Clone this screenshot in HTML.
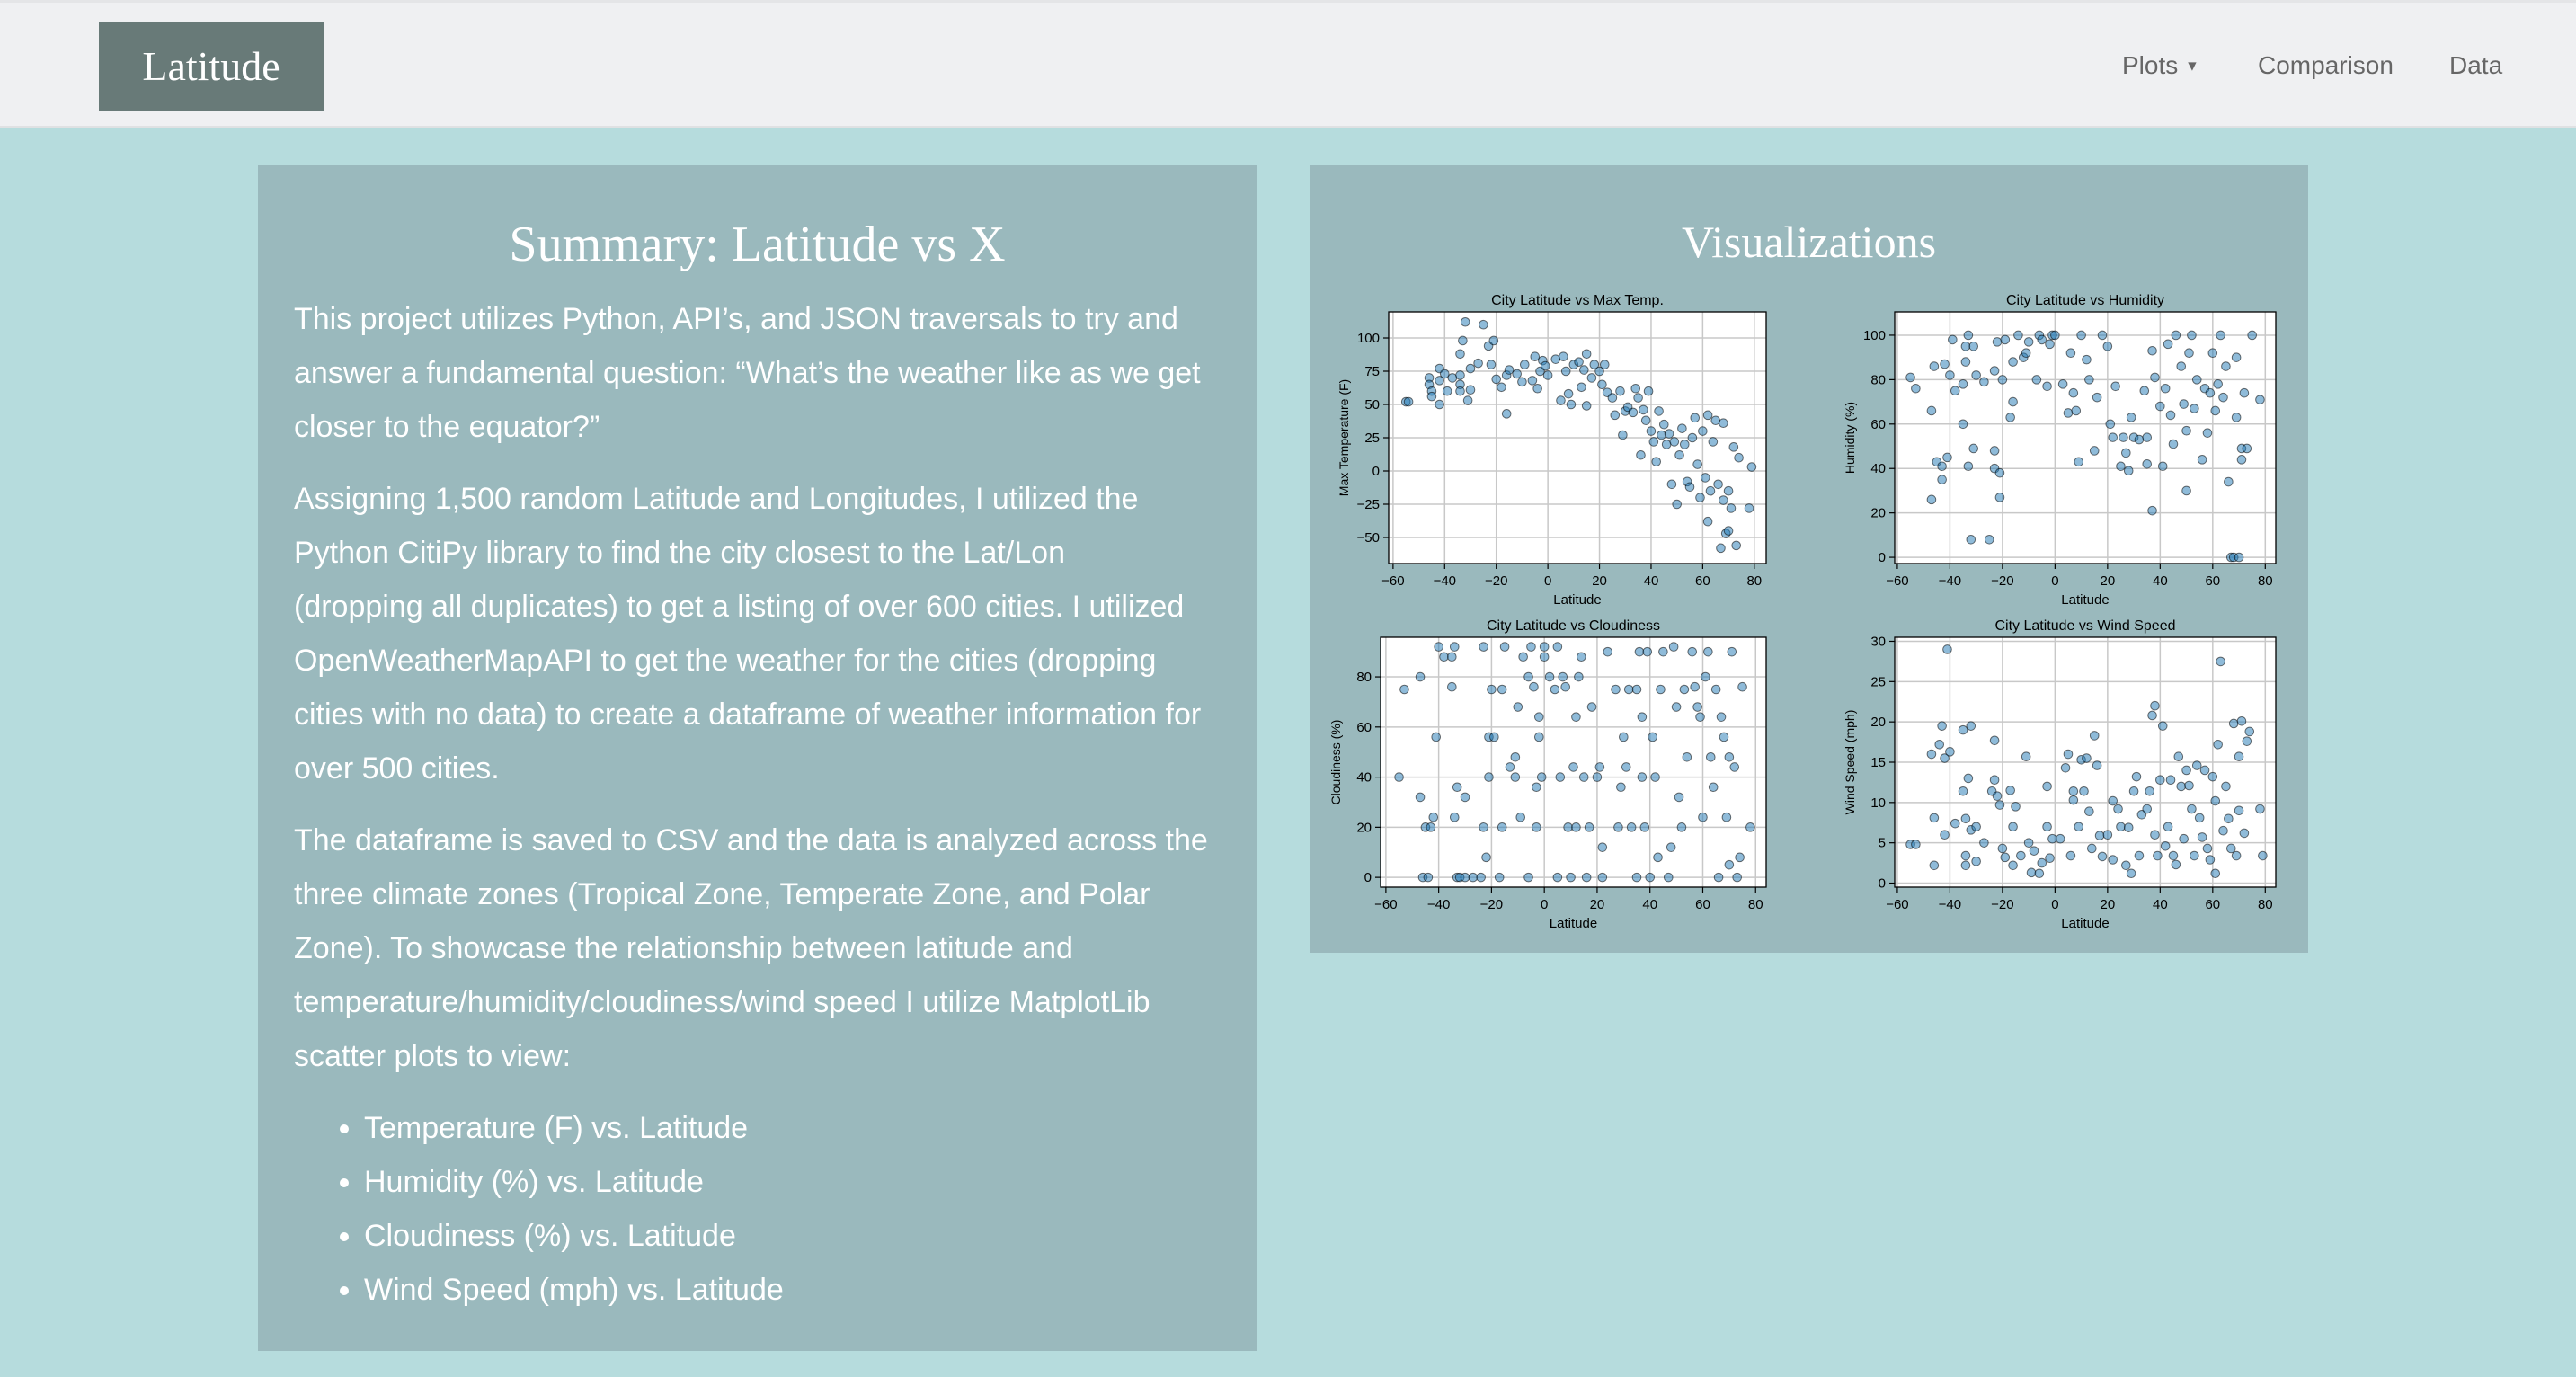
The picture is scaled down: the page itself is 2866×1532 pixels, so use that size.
<!DOCTYPE html>
<html><head><meta charset="utf-8">
<style>
body{margin:0;width:2866px;height:1532px;background:#b6dcdd;position:relative;overflow:hidden;font-family:"Liberation Sans",sans-serif;}
#nav{position:absolute;left:0;top:0;width:2866px;height:142px;background:#eff0f2;border-bottom:2px solid #dfe1e3;border-top:3px solid #e4e5e7;box-sizing:border-box;}
#logo{position:absolute;left:110px;top:21px;width:250px;height:100px;background:#687a78;color:#fff;font-family:"Liberation Serif",serif;font-size:46px;line-height:100px;text-align:center;}
.nl{position:absolute;top:54px;font-size:28px;color:#666;}
.panel{position:absolute;background:#9ab9bd;color:#fff;}
#left{left:287px;top:184px;width:1111px;height:1319px;}
#right{left:1457px;top:184px;width:1111px;height:876px;}
h2{font-family:"Liberation Serif",serif;font-weight:normal;font-size:56px;text-align:center;margin:0;position:absolute;width:100%;}
p{margin:0 0 20px 0;font-size:34px;line-height:60px;}
ul{margin:0;padding-left:78px;font-size:34px;line-height:60px;}
#charts{position:absolute;left:0;top:0;}
</style></head><body>
<div id="nav">
<div id="logo">Latitude</div>
<div class="nl" style="left:2361px">Plots <span style="font-size:16px;vertical-align:middle">▼</span></div>
<div class="nl" style="left:2512px">Comparison</div>
<div class="nl" style="left:2725px">Data</div>
</div>
<div id="left" class="panel">
<h2 style="top:56px">Summary: Latitude vs X</h2>
<div style="position:absolute;left:40px;top:141px;width:1025px">
<p>This project utilizes Python, API’s, and JSON traversals to try and answer a fundamental question: “What’s the weather like as we get closer to the equator?”</p>
<p>Assigning 1,500 random Latitude and Longitudes, I utilized the Python CitiPy library to find the city closest to the Lat/Lon<br>(dropping all duplicates) to get a listing of over 600 cities. I utilized OpenWeatherMapAPI to get the weather for the cities (dropping cities with no data) to create a dataframe of weather information for over 500 cities.</p>
<p>The dataframe is saved to CSV and the data is analyzed across the three climate zones (Tropical Zone, Temperate Zone, and Polar Zone). To showcase the relationship between latitude and temperature/humidity/cloudiness/wind speed I utilize MatplotLib scatter plots to view:</p>
<ul>
<li>Temperature (F) vs. Latitude</li>
<li>Humidity (%) vs. Latitude</li>
<li>Cloudiness (%) vs. Latitude</li>
<li>Wind Speed (mph) vs. Latitude</li>
</ul></div>
</div>
<div id="right" class="panel">
<h2 style="top:56px;font-size:50px">Visualizations</h2>
</div>
<svg id="charts" width="2866" height="1532"></svg>
<script>
const xTicks=[-60,-40,-20,0,20,40,60,80];
const tempData="-55,52;-54,52;-46,70;-46,65;-45,60;-45,56;-42,77;-42,68;-42,50;-40,73;-39,60;-37,70;-34,72;-34,65;-34,60;-34,88;-33,98;-32,112;-31,53;-30,61;-30,77;-27,81;-25,110;-23,94;-22,80;-21,98;-20,69;-18,63;-16,72;-16,43;-15,76;-12,73;-10,67;-9,80;-6,68;-5,86;-4,62;-3,75;-2,83;-1,79;0,72;3,84;5,53;6,86;7,75;8,58;9,50;10,80;12,82;13,63;14,76;15,88;15,49;17,70;18,80;20,75;21,65;22,80;23,59;25,55;26,42;28,60;29,27;30,45;31,48;33,44;34,62;35,55;36,12;37,46;38,38;39,60;40,30;41,22;42,7;43,45;44,27;45,35;46,20;47,28;48,-10;49,22;50,-25;51,12;52,32;53,20;54,-8;55,-12;56,25;57,40;58,5;59,-20;60,30;61,-5;62,42;62,-38;63,-15;64,22;65,38;66,-10;67,-58;68,36;68,-22;69,-47;70,-45;70,-15;71,-28;72,18;73,-56;74,10;78,-28;79,3";
const humData="-55,81;-53,76;-47,66;-47,26;-46,86;-45,43;-43,35;-43,41;-42,87;-41,45;-40,82;-39,98;-38,75;-35,60;-35,78;-34,95;-34,88;-33,100;-33,41;-31,49;-31,95;-30,82;-32,8;-27,79;-25,8;-23,40;-23,48;-23,84;-22,97;-21,27;-21,38;-20,80;-19,98;-17,63;-16,88;-16,70;-14,100;-12,90;-11,92;-10,97;-7,80;-6,100;-5,98;-3,77;-2,96;-1,100;0,100;3,78;5,65;6,92;7,74;8,66;9,43;10,100;12,89;13,80;15,48;16,72;18,100;20,95;21,60;22,54;23,77;25,41;26,54;27,47;28,39;29,63;30,54;32,53;34,75;35,54;35,42;37,21;37,93;38,81;40,68;41,41;42,76;43,96;44,64;45,51;46,100;48,86;49,69;50,57;50,30;51,92;52,100;53,67;54,80;56,44;57,76;58,56;59,74;60,92;61,66;62,78;63,100;64,72;65,86;66,34;67,0;68,0;69,63;69,90;70,0;71,44;71,49;72,74;73,49;75,100;78,71";
const cloudData="-55,40;-53,75;-47,80;-47,32;-46,0;-45,20;-44,0;-43,20;-42,24;-41,56;-40,92;-38,88;-35,88;-35,76;-34,24;-34,92;-33,0;-33,36;-32,0;-30,0;-30,32;-27,0;-24,0;-23,92;-23,20;-22,8;-21,56;-21,40;-20,75;-19,56;-17,0;-16,20;-16,75;-15,92;-13,44;-11,48;-11,40;-10,68;-9,24;-8,88;-6,80;-6,0;-5,92;-4,76;-3,36;-3,20;-2,64;-2,56;-1,40;0,92;0,88;2,80;4,75;5,0;5,92;6,40;7,80;8,76;9,20;10,0;11,44;12,64;12,20;13,80;14,88;15,40;16,0;17,20;18,68;20,40;21,44;22,12;22,0;24,90;27,75;28,20;29,36;30,56;31,44;32,75;33,20;35,75;35,0;36,90;37,40;37,64;38,20;39,90;40,0;41,56;42,40;43,8;44,75;45,90;47,0;48,12;49,92;50,68;51,32;52,20;53,75;54,48;56,90;57,76;58,68;59,64;60,24;61,80;62,90;63,48;64,36;65,75;66,0;67,64;68,56;69,24;70,5;70,48;71,90;72,44;73,0;74,8;75,76;78,20";
const windData="-55,4.8;-53,4.8;-47,16;-46,8.1;-46,2.2;-44,17.2;-43,19.5;-42,6;-42,15.5;-41,29;-40,16.3;-38,7.4;-35,19;-35,11.4;-34,8;-34,3.4;-34,2.2;-33,13;-32,6.6;-32,19.5;-30,7;-30,2.7;-27,5;-24,11.4;-23,12.8;-23,17.7;-22,10.8;-21,9.7;-20,4.3;-19,3.2;-17,11.5;-16,7;-16,2.2;-15,9.5;-13,3.4;-11,15.7;-10,5;-9,1.3;-8,4;-6,1.2;-5,2.5;-3,12;-3,7;-2,3.1;-1,5.5;2,5.5;4,14.3;5,16;6,3.4;7,11.4;7,10.3;9,7;10,15.3;11,11.4;12,15.5;13,8.9;14,4.3;15,18.3;16,14.6;17,5.9;18,3.3;20,6;22,2.9;22,10.2;24,9.2;25,7;27,2.2;28,6.9;29,1.2;30,11.4;31,13.2;32,3.4;33,8.5;35,9.2;36,11.4;37,20.8;38,22;38,6;39,3.4;40,12.8;41,19.5;42,4.6;43,7;44,12.8;45,3.4;46,2.3;47,15.7;48,12;49,5.5;50,14;51,12.1;52,9.2;53,3.4;54,14.6;55,8.1;56,5.7;57,14;58,4.3;59,2.9;60,13.2;61,10.2;61,1.2;62,17.2;63,27.5;64,6.5;65,12;66,8;67,4.3;68,19.8;69,3.4;70,9;70,15.7;71,20.1;72,6.2;73,17.6;74,18.8;78,9.2;79,3.4";
const tempTicks=[-50,-25,0,25,50,75,100];
const humTicks=[0,20,40,60,80,100];
const cloudTicks=[0,20,40,60,80];
const windTicks=[0,5,10,15,20,25,30];
const NS="http://www.w3.org/2000/svg";
const svg=document.getElementById('charts');
function mk(t,a,p){const e=document.createElementNS(NS,t);for(const k in a)e.setAttribute(k,a[k]);(p||svg).appendChild(e);return e;}
function parse(s){return s.split(';').map(x=>x.split(',').map(Number));}
function chart(name,data,ticks,box,xd,yd,title,ylab){
  const g=mk('g',{});
  
  
  const [L,T,R,B]=box;
  const sx=v=>L+(v-xd[0])/(xd[1]-xd[0])*(R-L);
  const sy=v=>B-(v-yd[0])/(yd[1]-yd[0])*(B-T);
  mk('rect',{x:L,y:T,width:R-L,height:B-T,fill:'#fff'},g);
  xTicks.forEach(v=>{const x=sx(v);
    mk('line',{x1:x,x2:x,y1:T,y2:B,stroke:'#c8c8c8','stroke-width':1.5},g);
    mk('line',{x1:x,x2:x,y1:B,y2:B+6,stroke:'#000','stroke-width':1.2},g);
    const t=mk('text',{x:x,y:B+24,'text-anchor':'middle','font-size':15,fill:'#000'},g);t.textContent=(v<0?'−':'')+Math.abs(v);});
  ticks.forEach(v=>{const y=sy(v);
    mk('line',{x1:L,x2:R,y1:y,y2:y,stroke:'#c8c8c8','stroke-width':1.5},g);
    mk('line',{x1:L-6,x2:L,y1:y,y2:y,stroke:'#000','stroke-width':1.2},g);
    const t=mk('text',{x:L-10,y:y+5,'text-anchor':'end','font-size':15,fill:'#000'},g);t.textContent=(v<0?'−':'')+Math.abs(v);});
  parse(data).forEach(d=>{
    const c=mk('circle',{cx:sx(d[0]),cy:sy(d[1]),r:4.8,fill:'rgba(31,119,180,0.5)',stroke:'rgba(0,0,0,0.55)','stroke-width':1},g);
    
    
  });
  mk('rect',{x:L,y:T,width:R-L,height:B-T,fill:'none',stroke:'#000','stroke-width':1.3},g);
  const tt=mk('text',{x:(L+R)/2,y:T-8,'text-anchor':'middle','font-size':16,fill:'#000'},g);tt.textContent=title;
  const xl=mk('text',{x:(L+R)/2,y:B+45,'text-anchor':'middle','font-size':15,fill:'#000'},g);xl.textContent='Latitude';
  const yl=mk('text',{x:0,y:0,'text-anchor':'middle','font-size':14,fill:'#000',transform:`translate(${L-45},${(T+B)/2}) rotate(-90)`},g);yl.textContent=ylab;
}
chart('temp-chart',tempData,tempTicks,[1545,347,1965,627],[-61.7,84.6],[-69.6,119.6],'City Latitude vs Max Temp.','Max Temperature (F)');
chart('humidity-chart',humData,humTicks,[2108,347,2532,627],[-61,84],[-2.8,110.5],'City Latitude vs Humidity','Humidity (%)');
chart('cloudiness-chart',cloudData,cloudTicks,[1536,709,1965,987],[-62,84],[-3.9,95.8],'City Latitude vs Cloudiness','Cloudiness (%)');
chart('wind-chart',windData,windTicks,[2108,709,2532,987],[-61,84],[-0.5,30.5],'City Latitude vs Wind Speed','Wind Speed (mph)');
</script>
</body></html>
